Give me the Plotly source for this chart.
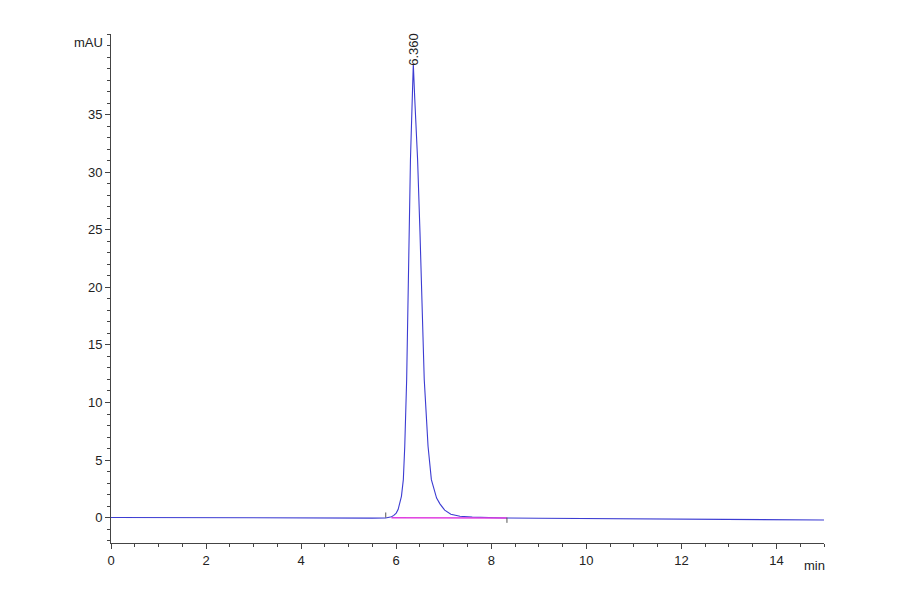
import plotly.graph_objects as go

# chromatogram trace (min, mAU)
time_min = [0.0, 0.5, 1.0, 2.0, 3.0, 4.0, 5.0, 5.5, 5.78, 5.85, 5.90, 5.95, 6.00, 6.04,
            6.08, 6.11, 6.15, 6.18, 6.22, 6.25, 6.28, 6.30, 6.33, 6.36, 6.39, 6.42,
            6.45, 6.50, 6.53, 6.59, 6.63, 6.67, 6.74, 6.80, 6.85, 6.92, 7.02, 7.15,
            7.34, 7.6, 8.0, 8.3, 9.0, 10.0, 11.0, 12.0, 13.0, 14.0, 15.0]
signal_mau = [0.02, 0.01, 0.0, -0.01, -0.02, -0.03, -0.04, -0.04, -0.03, 0.0, 0.08, 0.2,
              0.4, 0.7, 1.3, 1.85, 3.3, 6.2, 12.0, 20.7, 26.3, 31.1, 35.3, 39.4, 36.4,
              33.7, 31.1, 24.8, 20.7, 12.0, 9.1, 6.2, 3.3, 2.5, 1.7, 1.2, 0.65, 0.3,
              0.12, 0.05, 0.0, -0.03, -0.05, -0.07, -0.09, -0.11, -0.14, -0.18, -0.2]

# labelled ticks
x_ticks = [0, 2, 4, 6, 8, 10, 12, 14]
y_ticks = [0, 5, 10, 15, 20, 25, 30, 35]

# integration: peak start / end and the apex label
peak_start = 5.78
peak_end = 8.33
peak_rt = 6.36
peak_height = 39.4
peak_label = "6.360"

font_name = "Liberation Sans Narrow, Arial Narrow, Liberation Sans, Arial"

fig = go.Figure()

fig.add_trace(go.Scatter(x=time_min, y=signal_mau, mode="lines",
                         line=dict(color="#3c3cd2", width=1.1), hoverinfo="skip"))

# magenta baseline under the peak
fig.add_trace(go.Scatter(x=[peak_start + 0.12, peak_end], y=[0.0, -0.03], mode="lines",
                         line=dict(color="#e040e0", width=1.5), hoverinfo="skip"))

# small start/end tick marks
fig.add_trace(go.Scatter(x=[peak_start, peak_start, None, peak_end, peak_end],
                         y=[0.0, 0.45, None, 0.0, -0.45], mode="lines",
                         line=dict(color="#555555", width=1), hoverinfo="skip"))

fig.add_annotation(x=peak_rt, y=peak_height, text=peak_label, textangle=-90,
                   showarrow=False, xanchor="center", yanchor="bottom", yshift=-4,
                   font=dict(family=font_name, size=13, color="#222222"))

fig.add_annotation(x=0, xref="paper", xanchor="right", xshift=-6, y=41.3, yref="y",
                   text="mAU", showarrow=False,
                   font=dict(family=font_name, size=13, color="#222222"))
fig.add_annotation(x=14.8, y=0, yref="paper", yanchor="top", yshift=-13,
                   text="min", showarrow=False,
                   font=dict(family=font_name, size=13, color="#222222"))

fig.update_xaxes(range=[0, 15], tickvals=x_ticks, ticks="outside", ticklen=5,
                 tickcolor="#444444", showline=True, linecolor="#444444", linewidth=1,
                 showgrid=False, zeroline=False,
                 minor=dict(dtick=0.5, tick0=0, ticks="outside", ticklen=3, tickcolor="#444444"),
                 tickfont=dict(family=font_name, size=13, color="#222222"))
fig.update_yaxes(range=[-2.2, 42.0], tickvals=y_ticks, ticks="outside", ticklen=5,
                 tickcolor="#444444", showline=True, linecolor="#444444", linewidth=1,
                 showgrid=False, zeroline=False,
                 minor=dict(dtick=1, tick0=0, ticks="outside", ticklen=3, tickcolor="#444444"),
                 tickfont=dict(family=font_name, size=13, color="#222222"))

# page body adds 8px, so margins are shifted by that
fig.update_layout(width=900, height=594, showlegend=False,
                  plot_bgcolor="white", paper_bgcolor="white",
                  margin=dict(l=103, r=84, t=26, b=59))

fig.write_html("out.html")
